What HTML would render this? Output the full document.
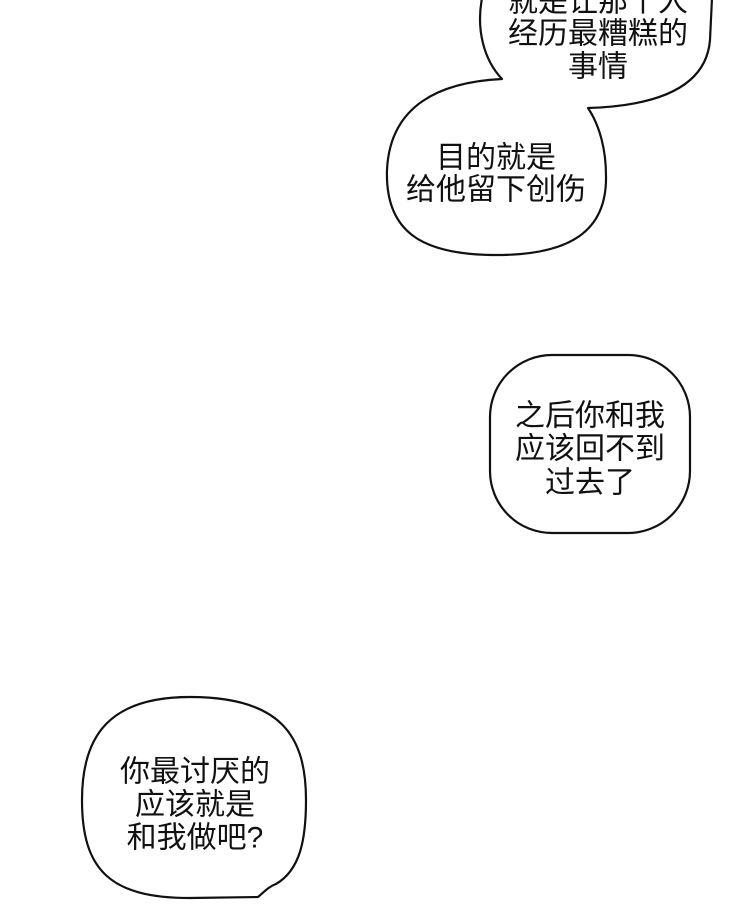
<!DOCTYPE html>
<html><head><meta charset="utf-8"><style>
html,body{margin:0;padding:0;background:#fff;}
svg{display:block}
text{font-family:"Liberation Sans","Noto Sans CJK SC",sans-serif;font-size:30px;fill:#111;text-anchor:middle;dominant-baseline:central;}
</style></head><body>
<svg width="740" height="924" viewBox="0 0 740 924" xmlns="http://www.w3.org/2000/svg">
<rect width="740" height="924" fill="#fff"/>
<g fill="#fff" stroke="#111" stroke-width="2.2" stroke-linejoin="round">
<path d="M482,-2 C476,30 484,60 502,79 C440,82 390,105 387,170 C385,232 422,254 492,255 C572,256 607,230 606,176 C606,150 600,126 588,108 C652,106 706,90 710,40 L712,-2 Z"/>
<rect x="490" y="355" width="200" height="178" rx="62" ry="62"/>
<path d="M190,697 C110,697 82,735 82,800 C82,870 110,898 190,898 L258,897 C266,890 270,886 276,884 C300,870 306,840 306,800 C306,735 280,697 190,697 Z"/>
</g>
<text x="598" y="2">就是让那个人</text>
<text x="598" y="34">经历最糟糕的</text>
<text x="598" y="67">事情</text>
<text x="496" y="158">目的就是</text>
<text x="496" y="190">给他留下创伤</text>
<text x="590" y="416">之后你和我</text>
<text x="590" y="449">应该回不到</text>
<text x="590" y="483">过去了</text>
<text x="195" y="772">你最讨厌的</text>
<text x="195" y="805">应该就是</text>
<text x="195" y="838">和我做吧?</text>
</svg>
</body></html>
